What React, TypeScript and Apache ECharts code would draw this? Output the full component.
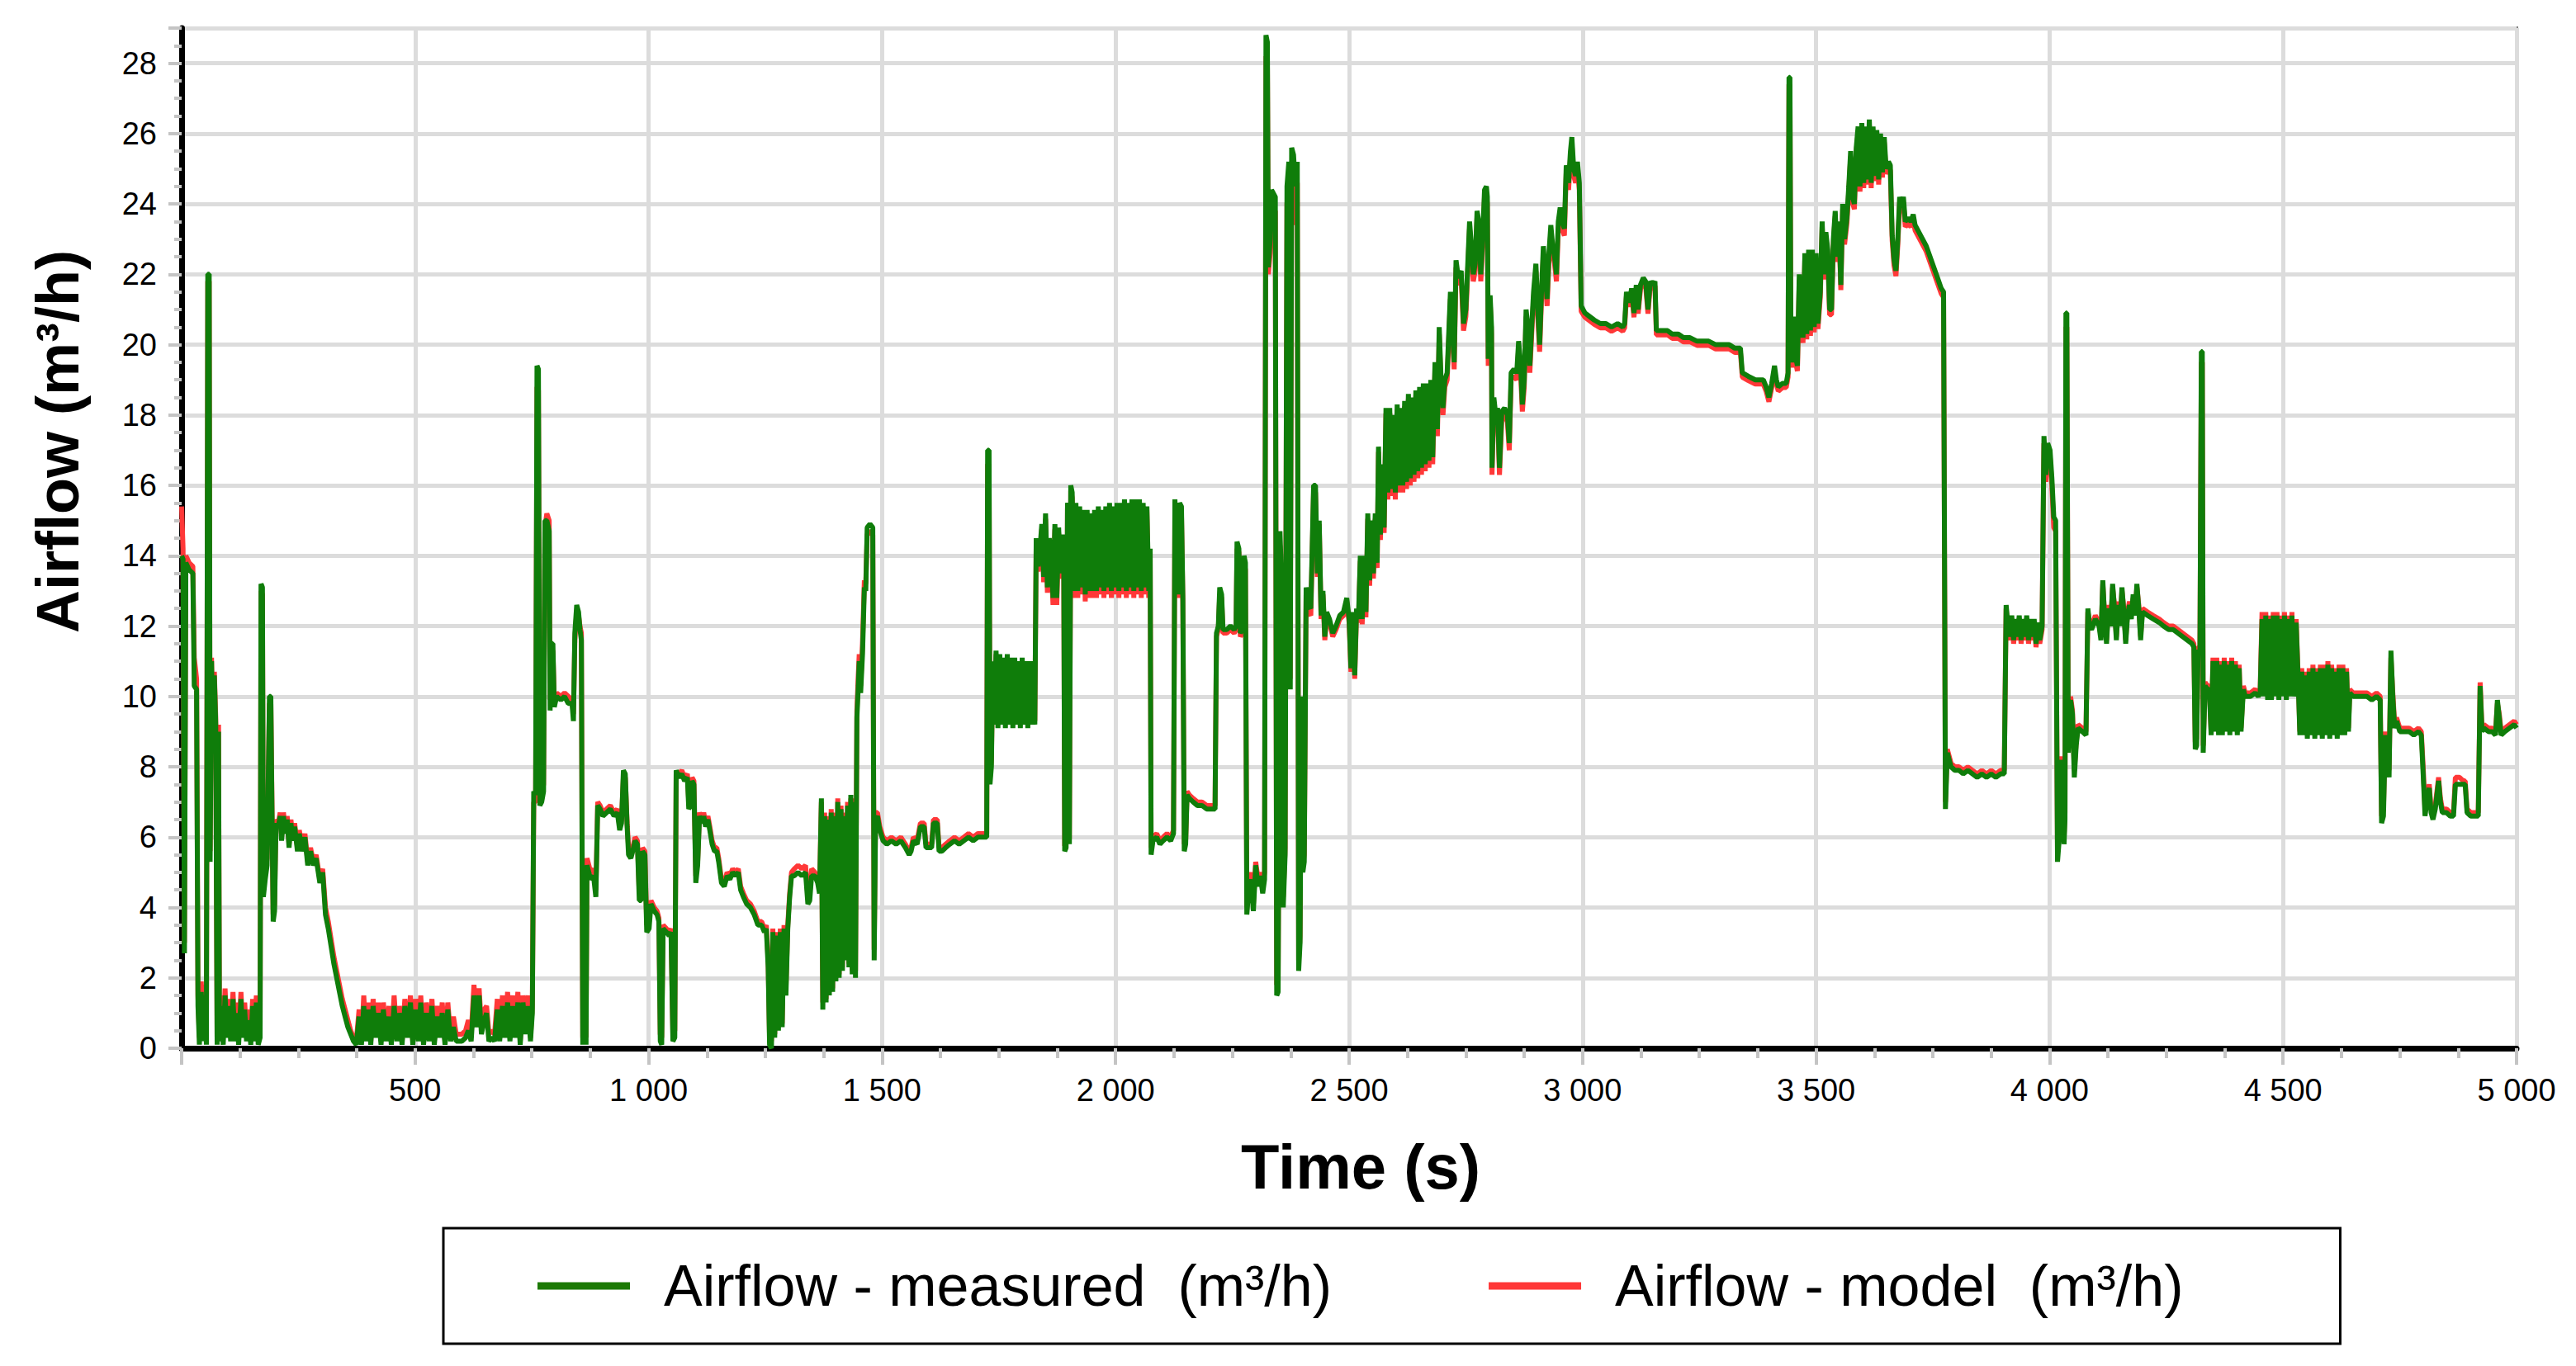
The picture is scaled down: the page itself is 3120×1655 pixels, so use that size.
import React, { useEffect, useRef } from "react";
import * as echarts from "echarts";

const X_MIN = 0;
const X_MAX = 5000;
const X_INTERVAL = 500;
const Y_MIN = 0;
const Y_MAX = 29;
const Y_INTERVAL = 2;

const MEASURED_NAME = "Airflow - measured\u00a0 (m³/h)";
const MODEL_NAME = "Airflow - model\u00a0 (m³/h)";
const X_TITLE = "Time (s)";
const Y_TITLE = "Airflow (m³/h)";

// [time (s), airflow (m3/h)]
const MEASURED: [number, number][] = [
[0,14.0],[3,13.9],[6,2.7],[9,13.8],[16,13.6],[24,13.5],[27,10.3],[32,10.2],[35,1.2],[38,0.1],[42,1.6],[46,0.2],[50,1.5],[53,0.1],[56,22.0],[59,22.0],[61,5.3],[64,11.0],[67,8.6],[70,10.6],[73,9.2],[76,0.1],[79,9.0],[81,0.2],[85,1.2],[89,0.1],[93,1.5],[97,0.3],[101,1.2],[105,0.2],[110,1.4],[114,0.2],[118,1.0],[122,0.1],[127,1.4],[131,0.3],[135,1.1],[139,0.2],[144,0.8],[148,0.1],[152,1.2],[156,0.2],[160,1.3],[164,0.1],[168,0.3],[170,13.2],[173,13.1],[175,4.3],[179,4.8],[183,5.2],[188,10.0],[191,10.0],[193,7.3],[196,3.6],[199,3.9],[202,6.4],[207,6.3],[211,6.6],[214,5.9],[218,6.6],[222,6.1],[226,6.5],[230,5.7],[234,6.4],[238,5.9],[242,6.3],[248,5.6],[252,6.1],[258,5.6],[264,6.0],[270,5.2],[276,5.6],[282,5.2],[288,5.4],[296,4.7],[302,5.0],[308,3.8],[314,3.4],[320,2.9],[326,2.4],[332,2.0],[338,1.6],[344,1.2],[350,0.9],[356,0.6],[362,0.4],[368,0.2],[374,0.1],
[380,0.9],[385,0.1],[390,1.2],[395,0.2],[400,1.1],[405,0.1],[410,1.2],[416,0.3],[421,1.0],[427,0.1],[432,1.1],[438,0.2],[444,0.9],[449,0.1],[455,1.2],[461,0.2],[466,1.0],[472,0.1],[478,1.2],[484,0.3],[490,1.3],[495,0.1],[501,1.1],[507,0.2],[512,1.3],[518,0.1],[524,1.0],[530,0.2],[536,1.2],[541,0.1],[547,0.9],[553,0.3],[558,1.0],[564,0.1],[570,1.1],[576,0.2],[582,0.6],[588,0.2],[600,0.2],[608,0.3],[614,0.5],[620,0.2],[626,1.5],[632,0.6],[637,1.5],[642,0.4],[648,0.8],[653,1.0],[658,0.2],[664,0.3],[670,0.2],[676,1.1],[681,0.2],[687,1.2],[692,0.3],[698,1.3],[703,0.2],[709,1.2],[714,0.3],[720,1.3],[725,0.1],[731,1.3],[736,0.4],[742,1.2],[747,0.2],[751,1.0],
[754,7.3],[758,7.2],[761,19.4],[764,19.3],[767,6.9],[771,7.0],[775,7.3],[778,15.0],[782,15.0],[787,14.7],[789,9.6],[792,11.5],[795,11.5],[798,9.7],[803,10.0],[812,9.9],[820,10.0],[828,9.8],[836,9.8],[839,9.3],[842,11.8],[846,12.6],[850,12.4],[853,11.9],[856,11.6],[859,0.1],[863,1.4],[866,0.1],[868,5.2],
[872,5.0],[876,4.8],[882,4.9],[887,4.3],[891,6.9],[896,6.8],[902,6.6],[910,6.7],[918,6.8],[926,6.6],[933,6.7],[938,6.2],[942,6.4],[946,7.9],[950,7.8],[954,6.3],[957,5.5],[962,5.4],[966,5.6],[971,5.9],[976,5.8],[980,4.2],[984,4.2],[987,5.6],[992,5.5],[996,3.3],[1001,3.4],[1005,4.1],[1012,3.9],[1018,3.8],[1022,3.6],[1025,0.2],[1028,0.1],[1031,3.4],[1038,3.3],[1044,3.2],[1048,3.3],[1052,0.2],[1056,0.3],[1059,7.9],[1065,7.7],[1071,7.8],[1077,7.6],[1083,7.7],[1086,6.8],[1090,6.9],[1093,7.6],[1097,7.5],[1101,4.7],[1105,5.2],[1109,6.6],[1114,6.4],[1118,6.6],[1122,6.3],[1127,6.5],[1131,6.2],[1136,5.8],[1141,5.6],[1146,5.6],[1150,5.3],[1156,4.7],[1162,4.6],[1168,4.9],[1174,4.8],[1180,5.0],[1186,4.9],[1192,5.0],[1197,4.5],[1203,4.3],[1210,4.1],[1218,4.0],[1226,3.8],[1234,3.5],[1242,3.5],[1248,3.3],[1252,3.4],[1256,2.3],[1259,0.1],
[1263,0.0],[1266,3.3],[1270,0.3],[1274,3.2],[1278,0.5],[1282,3.3],[1286,0.6],[1290,3.4],[1294,1.5],[1298,3.4],[1302,4.3],[1306,4.9],[1312,4.9],[1320,5.0],[1328,4.9],[1336,5.0],[1341,4.1],[1345,4.2],[1349,4.9],[1356,4.9],[1362,4.7],[1366,4.4],[1370,7.1],[1373,1.1],[1377,6.6],[1380,1.3],[1384,6.5],[1387,1.5],[1391,6.7],[1394,1.6],[1398,6.6],[1401,1.9],[1405,7.0],[1408,2.0],[1412,6.8],[1415,2.2],[1419,6.6],[1422,2.5],[1426,6.9],[1429,2.3],[1433,7.2],[1436,2.1],[1440,7.0],[1443,2.0],[1446,9.4],[1449,10.3],[1451,11.0],[1454,10.1],[1458,11.2],[1462,13.1],[1465,13.0],[1468,14.8],[1474,14.9],[1480,14.8],[1483,2.5],[1486,6.5],
[1490,6.6],[1495,6.2],[1502,5.9],[1510,5.8],[1520,5.9],[1530,5.8],[1540,5.9],[1550,5.7],[1558,5.5],[1562,5.6],[1567,5.9],[1575,5.8],[1582,6.3],[1590,6.3],[1594,5.7],[1600,5.7],[1606,5.7],[1610,6.4],[1618,6.4],[1622,5.6],[1628,5.6],[1636,5.7],[1645,5.8],[1655,5.9],[1665,5.8],[1675,5.9],[1685,6.0],[1695,5.9],[1705,6.0],[1715,6.0],[1724,6.0],
[1726,17.0],[1729,17.0],[1731,7.5],[1734,8.0],[1737,11.0],[1740,9.2],[1744,11.3],[1748,9.1],[1752,11.2],[1756,9.2],[1760,11.1],[1764,9.1],[1768,11.2],[1772,9.2],[1776,11.1],[1780,9.1],[1784,11.1],[1788,9.2],[1792,11.0],[1796,9.1],[1800,11.1],[1804,9.2],[1808,11.0],[1812,9.1],[1816,11.0],[1820,9.2],[1824,11.0],[1827,9.2],
[1830,14.5],[1834,13.7],[1838,14.2],[1842,14.9],[1846,13.4],[1850,15.2],[1854,13.1],[1858,14.5],[1862,14.0],[1866,12.8],[1870,14.9],[1874,12.8],[1878,14.8],[1882,13.5],[1886,14.6],[1889,14.0],[1891,5.6],[1894,5.7],[1897,15.5],[1899,15.4],[1901,5.8],[1904,16.0],[1907,15.8],
[1911,13.0],[1915,15.5],[1919,13.0],[1923,15.4],[1927,13.1],[1931,15.3],[1935,12.9],[1939,15.3],[1943,13.0],[1947,15.2],[1951,13.0],[1955,15.3],[1959,13.0],[1963,15.4],[1967,13.1],[1971,15.3],[1975,13.0],[1979,15.4],[1983,13.1],[1987,15.5],[1991,13.0],[1995,15.4],[1999,13.1],[2003,15.5],[2007,13.0],[2011,15.5],[2015,13.1],[2019,15.6],[2023,13.0],[2027,15.5],[2031,13.1],[2035,15.6],[2039,13.0],[2043,15.6],[2047,13.1],[2051,15.6],[2055,13.0],[2059,15.5],[2063,13.1],[2067,15.4],[2071,13.0],[2074,14.2],
[2076,5.5],[2080,5.9],[2088,6.0],[2095,5.8],[2102,5.9],[2110,6.0],[2118,5.9],[2124,6.1],[2127,15.6],[2131,14.0],[2134,12.9],[2137,15.5],[2141,15.4],[2144,12.8],[2147,5.6],[2150,5.8],[2153,7.2],[2158,7.1],[2166,7.0],[2175,6.9],[2185,6.9],[2195,6.8],[2205,6.8],[2213,6.8],[2216,11.8],[2220,12.0],[2223,13.1],[2227,12.9],[2230,11.9],[2238,11.9],[2246,12.0],[2254,11.9],[2258,12.0],[2260,14.4],[2264,14.2],[2267,11.8],[2271,11.9],[2275,14.0],[2278,13.8],[2281,3.8],[2285,4.5],[2290,4.8],[2295,3.9],[2300,5.2],[2305,4.6],[2310,4.9],[2315,4.4],[2319,4.8],
[2322,28.8],[2325,28.6],[2327,22.2],[2331,23.0],[2334,24.4],[2338,24.3],[2342,24.2],[2345,1.5],[2348,1.6],[2352,14.7],[2356,13.0],[2359,4.0],[2363,5.5],[2367,24.5],[2371,25.2],[2374,10.2],[2377,25.6],[2381,25.4],[2385,24.5],[2389,25.2],[2392,2.2],[2395,3.0],[2398,10.0],[2401,5.0],[2404,5.3],[2408,13.1],[2413,12.6],[2418,12.5],[2424,16.0],[2428,16.0],[2432,13.5],[2436,15.0],[2440,12.3],[2444,13.0],[2448,11.7],[2452,12.4],[2458,12.2],[2465,11.8],[2472,12.0],[2480,12.3],[2488,12.4],[2495,12.8],[2500,12.2],[2504,10.8],[2508,12.4],[2512,10.6],[2516,12.5],[2520,12.2],
[2524,14.0],[2528,12.2],[2532,14.0],[2536,12.4],[2540,15.2],[2544,13.3],[2548,15.0],[2552,13.5],[2556,15.2],[2560,13.8],[2563,17.1],[2567,14.6],[2571,16.6],[2575,14.8],[2579,18.2],[2583,15.8],[2587,18.2],[2591,15.9],[2595,18.0],[2599,15.8],[2603,18.3],[2607,16.0],[2611,18.2],[2615,16.0],[2619,18.4],[2623,16.1],[2627,18.6],[2631,16.2],[2635,18.5],[2639,16.3],[2643,18.7],[2647,16.4],[2651,18.8],[2655,16.5],[2659,18.9],[2663,16.6],[2667,18.9],[2671,16.7],[2675,19.0],[2679,16.8],[2684,19.5],[2689,17.6],[2693,20.5],[2697,19.0],[2701,18.2],[2705,19.0],[2710,19.2],[2717,21.5],[2721,20.5],[2725,19.5],[2729,22.4],[2734,21.9],[2740,22.1],[2745,20.6],[2750,21.0],[2758,23.5],[2762,22.8],[2766,22.0],[2770,22.3],[2774,23.8],[2778,23.5],[2782,22.0],[2786,23.0],[2790,24.4],[2794,24.5],[2796,24.2],[2798,19.6],[2802,21.4],[2805,20.5],[2806,16.5],[2810,18.5],[2814,18.0],[2818,18.2],[2822,16.5],[2827,18.1],[2833,18.2],[2839,18.0],[2843,17.2],[2847,19.2],[2853,19.3],[2859,19.2],[2863,20.1],[2867,19.5],[2871,18.3],[2875,19.0],[2879,21.0],[2883,20.5],[2887,19.4],[2891,20.5],[2895,21.5],[2900,22.3],[2904,21.0],[2908,20.0],[2912,21.5],[2916,22.8],[2920,22.0],[2924,21.3],[2928,22.6],[2932,23.4],[2936,22.8],[2940,22.5],[2944,22.0],[2948,23.5],[2952,23.9],[2956,23.5],[2961,23.3],[2965,25.1],[2970,24.6],[2974,25.5],[2977,25.9],[2981,25.0],[2985,24.8],[2989,25.2],[2993,24.6],[2997,21.1],
[3005,20.9],[3015,20.8],[3025,20.7],[3038,20.6],[3050,20.6],[3062,20.5],[3075,20.6],[3086,20.5],[3090,20.6],[3094,21.5],[3100,21.2],[3105,21.6],[3110,20.9],[3115,21.7],[3119,21.0],[3124,21.7],[3130,21.9],[3135,21.8],[3140,21.0],[3145,21.8],[3150,21.7],[3155,21.8],[3158,20.4],[3170,20.4],[3182,20.4],[3192,20.3],[3205,20.3],[3216,20.2],[3230,20.2],[3245,20.1],[3257,20.1],[3270,20.1],[3285,20.0],[3300,20.0],[3314,20.0],[3326,19.9],[3338,19.9],[3342,19.2],[3355,19.1],[3370,19.0],[3387,19.0],[3393,18.8],[3399,18.5],[3405,18.9],[3411,19.4],[3415,19.0],[3419,18.8],[3428,18.9],[3436,18.9],[3440,19.2],[3442,27.6],[3444,27.6],[3446,20.1],
[3450,19.5],[3453,20.8],[3457,19.6],[3460,19.4],[3464,22.0],[3468,21.0],[3472,20.2],[3476,22.6],[3480,20.3],[3484,22.7],[3488,20.4],[3492,22.7],[3496,20.5],[3500,22.6],[3504,20.6],[3509,21.5],[3513,23.5],[3517,22.0],[3521,23.2],[3525,22.7],[3529,21.0],[3533,21.0],[3537,23.0],[3541,23.8],[3545,22.5],[3549,23.5],[3553,21.7],[3557,24.0],[3561,23.0],[3566,23.6],[3570,24.5],[3574,25.5],[3578,24.2],[3582,24.0],[3586,25.6],[3590,26.2],[3594,24.5],[3598,26.3],[3602,24.6],[3606,26.2],[3610,24.7],[3614,26.4],[3618,24.6],[3622,26.2],[3626,24.8],[3630,26.1],[3634,24.7],[3638,26.0],[3642,24.9],[3646,25.9],[3650,25.0],[3655,25.2],[3659,25.1],[3663,23.1],[3667,22.4],[3671,22.1],[3675,23.0],[3679,24.2],[3683,23.9],[3687,24.2],[3691,23.5],[3697,23.6],[3703,23.5],[3708,23.7],[3712,23.4],[3716,23.3],[3720,23.2],[3728,23.0],[3736,22.8],[3744,22.5],[3752,22.2],[3760,21.9],[3768,21.6],[3773,21.5],
[3777,6.8],[3781,8.4],[3785,8.2],[3789,8.0],[3797,7.9],[3806,7.9],[3815,7.8],[3825,7.9],[3835,7.8],[3845,7.7],[3855,7.8],[3865,7.7],[3875,7.8],[3885,7.7],[3895,7.8],[3903,7.8],[3907,12.6],[3911,12.0],[3915,11.7],[3919,12.3],[3923,11.6],[3927,12.2],[3931,11.7],[3935,12.3],[3939,11.6],[3943,12.2],[3947,11.7],[3951,12.3],[3955,11.6],[3959,12.2],[3963,11.7],[3967,12.2],[3971,11.5],[3975,12.1],[3979,11.6],[3984,12.0],
[3988,17.4],[3992,16.3],[3996,17.2],[4001,17.0],[4005,16.2],[4009,15.1],[4013,15.0],[4017,5.3],[4021,6.0],[4025,8.2],[4028,7.5],[4031,5.8],[4033,6.5],[4035,20.9],[4037,20.9],[4040,8.4],[4045,9.9],[4049,9.5],[4053,7.7],[4057,8.6],[4061,9.1],[4070,9.0],[4078,8.9],[4082,12.5],[4086,12.0],[4090,11.9],[4098,12.2],[4106,12.0],[4110,11.6],[4114,13.3],[4118,12.2],[4122,11.5],[4126,12.5],[4131,12.0],[4135,13.2],[4139,12.5],[4143,11.6],[4147,12.6],[4151,12.0],[4155,13.1],[4159,12.4],[4163,11.5],[4167,12.3],[4171,12.6],[4175,12.2],[4179,12.9],[4183,12.3],[4187,13.2],[4191,12.5],[4195,11.6],[4199,12.4],[4210,12.3],[4222,12.2],[4235,12.1],[4244,12.0],[4255,11.9],[4265,11.9],[4275,11.8],[4285,11.7],[4295,11.6],[4305,11.5],[4309,11.4],[4312,8.5],[4315,8.6],[4318,11.3],[4322,11.3],[4325,19.8],[4327,19.8],[4329,8.4],[4333,10.3],
[4338,10.2],[4342,10.2],[4346,8.9],[4350,11.0],[4354,9.0],[4358,11.0],[4362,8.9],[4366,10.9],[4370,8.9],[4374,11.0],[4378,9.0],[4382,10.9],[4386,8.9],[4390,11.0],[4394,9.0],[4398,10.9],[4402,8.9],[4406,10.8],[4410,9.0],[4415,10.2],[4419,10.0],[4430,10.0],[4440,10.1],[4447,10.0],[4451,10.1],[4455,12.2],[4459,10.0],[4463,12.3],[4467,9.9],[4471,12.2],[4475,9.9],[4479,12.3],[4483,10.0],[4487,12.3],[4491,9.9],[4495,12.2],[4499,10.0],[4503,12.3],[4507,9.9],[4511,12.2],[4515,10.0],[4519,12.3],[4523,10.0],[4528,12.1],[4532,10.6],[4536,8.9],[4540,10.7],[4544,8.9],[4548,10.6],[4552,8.8],[4556,10.7],[4560,8.9],[4564,10.8],[4568,8.8],[4572,10.7],[4576,8.9],[4580,10.8],[4584,8.8],[4588,10.8],[4592,8.9],[4596,10.9],[4600,8.8],[4604,10.8],[4608,8.9],[4612,10.7],[4616,8.8],[4620,10.8],[4624,8.9],[4628,10.8],[4632,8.9],[4636,10.7],[4640,9.0],[4643,10.1],[4650,10.0],[4660,10.0],[4670,10.0],[4680,10.0],[4690,9.9],[4700,10.0],[4708,9.9],[4711,6.4],[4715,6.6],[4719,8.9],[4723,8.5],[4727,7.7],[4731,11.3],[4735,10.0],[4739,9.1],[4743,9.3],[4750,9.0],[4760,9.0],[4770,9.0],[4780,8.9],[4790,9.0],[4796,8.9],[4800,7.8],[4804,6.6],[4808,7.0],[4813,7.4],[4817,6.7],[4821,6.5],[4826,6.8],[4833,7.6],[4837,7.0],[4841,6.7],[4850,6.7],[4858,6.6],[4865,6.6],[4869,7.5],[4878,7.5],[4886,7.5],[4890,7.5],[4894,6.7],[4902,6.6],[4910,6.6],[4918,6.6],[4922,10.3],[4926,9.0],[4930,9.1],[4940,9.0],[4948,9.0],[4955,8.9],[4959,9.9],[4963,9.4],[4967,8.9],[4975,9.0],[4985,9.1],[4995,9.2],[5000,9.1]
];

const MODEL: [number, number][] = [
[0,15.4],[3,14.2],[6,3.0],[9,14.0],[16,13.8],[24,13.7],[27,11.1],[32,10.5],[35,1.5],[38,0.3],[42,1.9],[46,0.4],[50,1.8],[53,0.3],[56,21.8],[59,21.8],[61,5.6],[64,11.1],[67,8.8],[70,10.7],[73,9.4],[76,0.3],[79,9.2],[81,0.4],[85,1.5],[89,0.3],[93,1.7],[97,0.5],[101,1.4],[105,0.4],[110,1.6],[114,0.4],[118,1.3],[122,0.3],[127,1.6],[131,0.5],[135,1.3],[139,0.4],[144,1.1],[148,0.3],[152,1.4],[156,0.4],[160,1.5],[164,0.3],[168,0.5],[170,13.0],[173,12.9],[175,4.5],[179,5.0],[183,5.4],[188,9.8],[191,9.8],[193,7.5],[196,3.8],[199,4.1],[202,6.5],[207,6.4],[211,6.7],[214,6.0],[218,6.7],[222,6.2],[226,6.6],[230,5.8],[234,6.5],[238,6.0],[242,6.4],[248,5.7],[252,6.2],[258,5.7],[264,6.1],[270,5.3],[276,5.7],[282,5.3],[288,5.5],[296,4.8],[302,5.1],[308,4.0],[314,3.6],[320,3.1],[326,2.6],[332,2.2],[338,1.8],[344,1.4],[350,1.1],[356,0.8],[362,0.5],[368,0.3],[374,0.2],
[380,1.1],[385,0.2],[390,1.5],[395,0.3],[400,1.3],[405,0.2],[410,1.4],[416,0.4],[421,1.3],[427,0.2],[432,1.3],[438,0.3],[444,1.2],[449,0.2],[455,1.5],[461,0.3],[466,1.2],[472,0.2],[478,1.4],[484,0.4],[490,1.5],[495,0.2],[501,1.4],[507,0.3],[512,1.5],[518,0.2],[524,1.3],[530,0.3],[536,1.4],[541,0.2],[547,1.2],[553,0.4],[558,1.3],[564,0.2],[570,1.3],[576,0.3],[582,0.9],[588,0.4],[600,0.4],[608,0.5],[614,0.8],[620,0.4],[626,1.8],[632,0.8],[637,1.7],[642,0.6],[648,1.1],[653,1.2],[658,0.4],[664,0.5],[670,0.4],[676,1.4],[681,0.3],[687,1.5],[692,0.4],[698,1.6],[703,0.3],[709,1.5],[714,0.4],[720,1.6],[725,0.2],[731,1.5],[736,0.5],[742,1.5],[747,0.3],[751,1.2],
[754,7.0],[758,7.0],[761,18.8],[764,18.7],[767,7.1],[771,7.2],[775,7.5],[778,14.8],[782,15.2],[787,15.0],[789,9.9],[792,11.3],[795,11.3],[798,9.9],[803,10.1],[812,10.0],[820,10.1],[828,10.0],[836,9.9],[839,9.5],[842,11.6],[846,12.4],[850,12.3],[853,12.0],[856,11.8],[859,0.3],[863,1.6],[866,0.3],[868,5.4],
[872,5.2],[876,5.0],[882,5.1],[887,4.5],[891,7.0],[896,6.9],[902,6.7],[910,6.8],[918,6.9],[926,6.7],[933,6.8],[938,6.3],[942,6.5],[946,7.7],[950,7.7],[954,6.4],[957,5.7],[962,5.6],[966,5.7],[971,6.0],[976,5.9],[980,4.4],[984,4.4],[987,5.7],[992,5.6],[996,3.5],[1001,3.6],[1005,4.2],[1012,4.0],[1018,3.9],[1022,3.7],[1025,0.4],[1028,0.3],[1031,3.5],[1038,3.4],[1044,3.3],[1048,3.4],[1052,0.4],[1056,0.5],[1059,7.8],[1065,7.8],[1071,7.9],[1077,7.7],[1083,7.8],[1086,7.0],[1090,7.0],[1093,7.7],[1097,7.6],[1101,4.9],[1105,5.3],[1109,6.7],[1114,6.5],[1118,6.7],[1122,6.4],[1127,6.6],[1131,6.3],[1136,5.9],[1141,5.7],[1146,5.7],[1150,5.4],[1156,4.8],[1162,4.7],[1168,5.0],[1174,4.9],[1180,5.1],[1186,5.0],[1192,5.1],[1197,4.6],[1203,4.4],[1210,4.2],[1218,4.1],[1226,3.9],[1234,3.6],[1242,3.6],[1248,3.4],[1252,3.5],[1256,2.5],[1259,0.3],
[1263,0.2],[1266,3.4],[1270,0.4],[1274,3.3],[1278,0.6],[1282,3.4],[1286,0.7],[1290,3.5],[1294,1.7],[1298,3.5],[1302,4.4],[1306,5.0],[1312,5.1],[1320,5.2],[1328,5.1],[1336,5.2],[1341,4.3],[1345,4.4],[1349,5.1],[1356,5.0],[1362,4.8],[1366,4.5],[1370,7.0],[1373,1.3],[1377,6.7],[1380,1.4],[1384,6.6],[1387,1.6],[1391,6.8],[1394,1.7],[1398,6.7],[1401,2.0],[1405,7.1],[1408,2.1],[1412,6.9],[1415,2.3],[1419,6.7],[1422,2.6],[1426,7.0],[1429,2.4],[1433,7.1],[1436,2.2],[1440,7.1],[1443,2.2],[1446,9.6],[1449,10.6],[1451,11.2],[1454,10.3],[1458,11.5],[1462,13.3],[1465,13.2],[1468,14.6],[1474,14.7],[1480,14.6],[1483,2.8],[1486,6.7],
[1490,6.7],[1495,6.3],[1502,6.0],[1510,5.9],[1520,6.0],[1530,5.9],[1540,6.0],[1550,5.8],[1558,5.6],[1562,5.7],[1567,6.0],[1575,5.9],[1582,6.4],[1590,6.4],[1594,5.8],[1600,5.8],[1606,5.8],[1610,6.5],[1618,6.5],[1622,5.7],[1628,5.7],[1636,5.8],[1645,5.9],[1655,6.0],[1665,5.9],[1675,6.0],[1685,6.1],[1695,6.0],[1705,6.1],[1715,6.1],[1724,6.1],
[1726,16.6],[1729,16.6],[1731,7.7],[1734,8.2],[1737,10.9],[1740,9.3],[1744,11.2],[1748,9.2],[1752,11.1],[1756,9.3],[1760,11.0],[1764,9.2],[1768,11.1],[1772,9.3],[1776,11.0],[1780,9.2],[1784,11.0],[1788,9.3],[1792,10.9],[1796,9.2],[1800,11.0],[1804,9.3],[1808,10.9],[1812,9.2],[1816,10.9],[1820,9.3],[1824,10.9],[1827,9.3],
[1830,14.35],[1834,13.55],[1838,14.05],[1842,14.75],[1846,13.25],[1850,15.05],[1854,12.95],[1858,14.35],[1862,13.85],[1866,12.6],[1870,14.75],[1874,12.6],[1878,14.65],[1882,13.35],[1886,14.45],[1889,13.85],[1891,5.75],[1894,5.85],[1897,15.35],[1899,15.25],[1901,5.95],[1904,15.85],[1907,15.65],
[1911,12.8],[1915,15.4],[1919,12.8],[1923,15.3],[1927,12.9],[1931,15.2],[1935,12.7],[1939,15.2],[1943,12.8],[1947,15.1],[1951,12.8],[1955,15.2],[1959,12.8],[1963,15.3],[1967,12.9],[1971,15.2],[1975,12.8],[1979,15.3],[1983,12.9],[1987,15.4],[1991,12.8],[1995,15.3],[1999,12.9],[2003,15.4],[2007,12.8],[2011,15.4],[2015,12.9],[2019,15.5],[2023,12.8],[2027,15.4],[2031,12.9],[2035,15.5],[2039,12.8],[2043,15.5],[2047,12.9],[2051,15.5],[2055,12.8],[2059,15.4],[2063,12.9],[2067,15.3],[2071,12.8],[2074,14.1],
[2076,5.7],[2080,6.0],[2088,6.1],[2095,5.9],[2102,6.0],[2110,6.1],[2118,6.0],[2124,6.2],[2127,15.4],[2131,13.9],[2134,12.8],[2137,15.3],[2141,15.2],[2144,12.7],[2147,5.8],[2150,5.9],[2153,7.3],[2158,7.2],[2166,7.1],[2175,7.0],[2185,7.0],[2195,6.9],[2205,6.9],[2213,6.9],[2216,11.7],[2220,11.9],[2223,12.9],[2227,12.8],[2230,11.8],[2238,11.8],[2246,11.9],[2254,11.8],[2258,11.9],[2260,14.2],[2264,14.1],[2267,11.7],[2271,11.8],[2275,13.8],[2278,13.6],[2281,4.0],[2285,4.7],[2290,5.0],[2295,4.1],[2300,5.3],[2305,4.8],[2310,5.0],[2315,4.6],[2319,5.0],
[2322,28.2],[2325,27.9],[2327,22.0],[2331,22.6],[2334,23.6],[2338,23.8],[2342,23.8],[2345,1.8],[2348,1.9],[2352,14.3],[2356,12.8],[2359,4.3],[2363,5.7],[2367,24.0],[2371,24.6],[2374,10.5],[2377,25.0],[2381,25.0],[2385,23.4],[2389,24.6],[2392,2.5],[2395,3.2],[2398,9.8],[2401,5.2],[2404,5.5],[2408,12.9],[2413,12.4],[2418,12.3],[2424,15.8],[2428,15.8],[2432,13.4],[2436,14.9],[2440,12.2],[2444,12.9],[2448,11.6],[2452,12.3],[2458,12.1],[2465,11.7],[2472,11.9],[2480,12.2],[2488,12.3],[2495,12.7],[2500,12.1],[2504,10.7],[2508,12.3],[2512,10.5],[2516,12.4],[2520,12.1],
[2524,13.85],[2528,12.05],[2532,13.85],[2536,12.25],[2540,15.05],[2544,13.15],[2548,14.85],[2552,13.35],[2556,15.05],[2560,13.65],[2563,16.95],[2567,14.45],[2571,16.45],[2575,14.65],[2579,18.05],[2583,15.6],[2587,18.05],[2591,15.7],[2595,17.85],[2599,15.6],[2603,18.15],[2607,15.8],[2611,18.05],[2615,15.8],[2619,18.25],[2623,15.9],[2627,18.45],[2631,16.0],[2635,18.35],[2639,16.1],[2643,18.55],[2647,16.2],[2651,18.65],[2655,16.3],[2659,18.75],[2663,16.4],[2667,18.75],[2671,16.5],[2675,18.85],[2679,16.6],[2684,19.35],[2689,17.4],[2693,20.3],[2697,18.8],[2701,18.0],[2705,18.8],[2710,19.0],[2717,21.3],[2721,20.3],[2725,19.3],[2729,22.2],[2734,21.7],[2740,21.9],[2745,20.4],[2750,20.8],[2758,23.3],[2762,22.6],[2766,21.8],[2770,22.1],[2774,23.6],[2778,23.3],[2782,21.8],[2786,22.8],[2790,24.2],[2794,24.3],[2796,24.0],[2798,19.4],[2802,21.2],[2805,20.3],[2806,16.3],[2810,18.3],[2814,17.8],[2818,18.0],[2822,16.3],[2827,17.9],[2833,18.0],[2839,17.8],[2843,17.0],[2847,19.0],[2853,19.1],[2859,19.0],[2863,19.9],[2867,19.3],[2871,18.1],[2875,18.8],[2879,20.8],[2883,20.3],[2887,19.2],[2891,20.3],[2895,21.3],[2900,22.1],[2904,20.8],[2908,19.8],[2912,21.3],[2916,22.6],[2920,21.8],[2924,21.1],[2928,22.4],[2932,23.2],[2936,22.6],[2940,22.3],[2944,21.8],[2948,23.3],[2952,23.7],[2956,23.3],[2961,23.1],[2965,24.9],[2970,24.4],[2974,25.3],[2977,25.7],[2981,24.8],[2985,24.6],[2989,25.0],[2993,24.4],[2997,20.95],
[3005,20.78],[3015,20.68],[3025,20.58],[3038,20.48],[3050,20.48],[3062,20.38],[3075,20.48],[3086,20.38],[3090,20.48],[3094,21.38],[3100,21.08],[3105,21.48],[3110,20.78],[3115,21.58],[3119,20.88],[3124,21.58],[3130,21.78],[3135,21.68],[3140,20.88],[3145,21.68],[3150,21.58],[3155,21.68],[3158,20.28],[3170,20.28],[3182,20.28],[3192,20.18],[3205,20.18],[3216,20.08],[3230,20.08],[3245,19.98],[3257,19.98],[3270,19.98],[3285,19.88],[3300,19.88],[3314,19.88],[3326,19.78],[3338,19.78],[3342,19.08],[3355,18.98],[3370,18.88],[3387,18.88],[3393,18.68],[3399,18.38],[3405,18.78],[3411,19.28],[3415,18.88],[3419,18.68],[3428,18.78],[3436,18.78],[3440,19.08],[3442,27.4],[3444,27.4],[3446,19.98],
[3450,19.35],[3453,20.65],[3457,19.45],[3460,19.25],[3464,21.85],[3468,20.85],[3472,20.05],[3476,22.45],[3480,20.15],[3484,22.55],[3488,20.25],[3492,22.55],[3496,20.35],[3500,22.45],[3504,20.45],[3509,21.35],[3513,23.35],[3517,21.85],[3521,23.05],[3525,22.55],[3529,20.85],[3533,20.85],[3537,22.85],[3541,23.65],[3545,22.35],[3549,23.35],[3553,21.55],[3557,23.85],[3561,22.85],[3566,23.45],[3570,24.35],[3574,25.35],[3578,24.05],[3582,23.85],[3586,25.45],[3590,26.05],[3594,24.35],[3598,26.15],[3602,24.45],[3606,26.05],[3610,24.55],[3614,26.25],[3618,24.45],[3622,26.05],[3626,24.65],[3630,25.95],[3634,24.55],[3638,25.85],[3642,24.75],[3646,25.75],[3650,24.85],[3655,25.05],[3659,24.95],[3663,22.95],[3667,22.25],[3671,21.95],[3675,22.85],[3679,24.05],[3683,23.75],[3687,24.05],[3691,23.35],[3697,23.45],[3703,23.35],[3708,23.55],[3712,23.25],[3716,23.15],[3720,23.05],[3728,22.85],[3736,22.65],[3744,22.35],[3752,22.05],[3760,21.75],[3768,21.45],[3773,21.35],
[3777,7.0],[3781,8.5],[3785,8.3],[3789,8.1],[3797,8.0],[3806,8.0],[3815,7.9],[3825,8.0],[3835,7.9],[3845,7.8],[3855,7.9],[3865,7.8],[3875,7.9],[3885,7.8],[3895,7.9],[3903,7.9],[3907,12.5],[3911,11.9],[3915,11.6],[3919,12.2],[3923,11.5],[3927,12.1],[3931,11.6],[3935,12.2],[3939,11.5],[3943,12.1],[3947,11.6],[3951,12.2],[3955,11.5],[3959,12.1],[3963,11.6],[3967,12.1],[3971,11.4],[3975,12.0],[3979,11.5],[3984,11.9],
[3988,17.2],[3992,16.1],[3996,17.0],[4001,16.8],[4005,16.0],[4009,14.8],[4013,14.7],[4017,5.6],[4021,6.2],[4025,8.3],[4028,7.7],[4031,6.0],[4033,6.7],[4035,20.5],[4037,20.5],[4040,8.6],[4045,10.0],[4049,9.6],[4053,7.9],[4057,8.7],[4061,9.2],[4070,9.1],[4078,9.0],[4082,12.4],[4086,12.1],[4090,12.0],[4098,12.3],[4106,12.1],[4110,11.7],[4114,13.2],[4118,12.3],[4122,11.6],[4126,12.6],[4131,12.1],[4135,13.1],[4139,12.6],[4143,11.7],[4147,12.7],[4151,12.1],[4155,13.0],[4159,12.5],[4163,11.6],[4167,12.4],[4171,12.7],[4175,12.3],[4179,12.8],[4183,12.4],[4187,13.1],[4191,12.6],[4195,11.7],[4199,12.5],[4210,12.4],[4222,12.3],[4235,12.2],[4244,12.1],[4255,12.0],[4265,12.0],[4275,11.9],[4285,11.8],[4295,11.7],[4305,11.6],[4309,11.5],[4312,8.7],[4315,8.8],[4318,11.4],[4322,11.4],[4325,19.5],[4327,19.5],[4329,8.6],[4333,10.4],
[4338,10.3],[4342,10.3],[4346,9.0],[4350,11.1],[4354,9.1],[4358,11.1],[4362,9.0],[4366,11.0],[4370,9.0],[4374,11.1],[4378,9.1],[4382,11.0],[4386,9.0],[4390,11.1],[4394,9.1],[4398,11.0],[4402,9.0],[4406,10.9],[4410,9.1],[4415,10.3],[4419,10.1],[4430,10.1],[4440,10.2],[4447,10.1],[4451,10.2],[4455,12.4],[4459,10.1],[4463,12.4],[4467,10.0],[4471,12.3],[4475,10.0],[4479,12.4],[4483,10.1],[4487,12.4],[4491,10.0],[4495,12.3],[4499,10.1],[4503,12.4],[4507,10.0],[4511,12.3],[4515,10.1],[4519,12.4],[4523,10.1],[4528,12.2],[4532,10.7],[4536,9.0],[4540,10.8],[4544,9.0],[4548,10.7],[4552,8.9],[4556,10.8],[4560,9.0],[4564,10.9],[4568,8.9],[4572,10.8],[4576,9.0],[4580,10.9],[4584,8.9],[4588,10.9],[4592,9.0],[4596,11.0],[4600,8.9],[4604,10.9],[4608,9.0],[4612,10.8],[4616,8.9],[4620,10.9],[4624,9.0],[4628,10.9],[4632,9.0],[4636,10.8],[4640,9.1],[4643,10.2],[4650,10.1],[4660,10.1],[4670,10.1],[4680,10.1],[4690,10.0],[4700,10.1],[4708,10.0],[4711,6.6],[4715,6.8],[4719,9.0],[4723,8.6],[4727,7.9],[4731,11.1],[4735,10.1],[4739,9.2],[4743,9.4],[4750,9.1],[4760,9.1],[4770,9.1],[4780,9.0],[4790,9.1],[4796,9.0],[4800,8.0],[4804,6.8],[4808,7.1],[4813,7.5],[4817,6.8],[4821,6.7],[4826,6.9],[4833,7.7],[4837,7.1],[4841,6.8],[4850,6.8],[4858,6.7],[4865,6.7],[4869,7.7],[4878,7.7],[4886,7.6],[4890,7.6],[4894,6.8],[4902,6.7],[4910,6.7],[4918,6.7],[4922,10.4],[4926,9.1],[4930,9.2],[4940,9.1],[4948,9.1],[4955,9.0],[4959,9.8],[4963,9.5],[4967,9.0],[4975,9.1],[4985,9.2],[4995,9.3],[5000,9.2]
];

const FONT = '"Liberation Sans", Arial, Helvetica, sans-serif';
const GREEN = "#0f7d0a";
const RED = "#ff3838";

function fmtThousands(v: number): string {
  if (v >= 1000) {
    const th = Math.floor(v / 1000);
    const rest = String(v % 1000).padStart(3, "0");
    return th + " " + rest;
  }
  return String(v);
}

export default function App() {
  const ref = useRef<HTMLDivElement>(null);
  useEffect(() => {
    if (!ref.current) return;
    const chart = echarts.init(ref.current, null, { renderer: "svg" });
    const option: any = {
      animation: false,
      backgroundColor: "#ffffff",
      grid: {
        left: 220,
        right: 72,
        top: 34,
        bottom: 385,
        show: true,
        borderColor: "#808080",
        borderWidth: 4,
        backgroundColor: "transparent",
      },
      xAxis: {
        type: "value",
        min: X_MIN,
        max: X_MAX,
        interval: X_INTERVAL,
        axisLine: { show: true, onZero: false, lineStyle: { color: "#000", width: 7 } },
        axisTick: { show: true, length: 20, lineStyle: { color: "#c4c4c4", width: 4 } },
        minorTick: { show: true, splitNumber: 4, length: 12, lineStyle: { color: "#c4c4c4", width: 4 } },
        axisLabel: {
          showMinLabel: false,
          margin: 32,
          fontSize: 38,
          color: "#000",
          fontFamily: FONT,
          formatter: (v: number) => fmtThousands(v),
        },
        splitLine: { show: true, lineStyle: { color: "#dcdcdc", width: 5 } },
        minorSplitLine: { show: false },
      },
      yAxis: {
        type: "value",
        min: Y_MIN,
        max: Y_MAX,
        interval: Y_INTERVAL,
        axisLine: { show: true, onZero: false, lineStyle: { color: "#000", width: 7 } },
        axisTick: { show: true, length: 16, lineStyle: { color: "#c4c4c4", width: 4 } },
        minorTick: { show: true, splitNumber: 4, length: 9, lineStyle: { color: "#c4c4c4", width: 4 } },
        axisLabel: {
          showMaxLabel: false,
          margin: 30,
          fontSize: 38,
          color: "#000",
          fontFamily: FONT,
          formatter: (v: number) => (v > 28 ? "" : String(v)),
        },
        splitLine: { show: true, lineStyle: { color: "#dcdcdc", width: 5 } },
      },
      legend: {
        left: 537,
        top: 1488,
        orient: "horizontal",
        data: [
          { name: MEASURED_NAME, icon: "rect" },
          { name: MODEL_NAME, icon: "rect" },
        ],
        itemWidth: 112,
        itemHeight: 9,
        itemGap: 190,
        padding: [35, 190, 35, 114],
        borderColor: "#000",
        borderWidth: 3,
        backgroundColor: "#fff",
        selectedMode: false,
        textStyle: {
          fontSize: 70,
          lineHeight: 70,
          color: "#000",
          fontFamily: FONT,
          padding: [0, 0, 0, 36],
        },
      },
      graphic: [
        {
          type: "text",
          x: 70,
          y: 535,
          rotation: Math.PI / 2,
          style: {
            text: Y_TITLE,
            fontSize: 72,
            fontWeight: "bold",
            fontFamily: FONT,
            fill: "#000",
            align: "center",
            verticalAlign: "middle",
          },
        },
        {
          type: "text",
          x: 1648,
          y: 1413,
          style: {
            text: X_TITLE,
            fontSize: 76,
            fontWeight: "bold",
            fontFamily: FONT,
            fill: "#000",
            align: "center",
            verticalAlign: "middle",
          },
        },
      ],
      series: [
        {
          name: MODEL_NAME,
          type: "line",
          data: MODEL,
          symbol: "none",
          showSymbol: false,
          lineStyle: { color: RED, width: 6 },
          itemStyle: { color: RED },
          z: 2,
        },
        {
          name: MEASURED_NAME,
          type: "line",
          data: MEASURED,
          symbol: "none",
          showSymbol: false,
          lineStyle: { color: GREEN, width: 6 },
          itemStyle: { color: "#1c7a04" },
          z: 3,
        },
      ],
    };
    chart.setOption(option);
    return () => {
      chart.dispose();
    };
  }, []);
  return (
    <div
      ref={ref}
      style={{ position: "absolute", left: 0, top: 0, width: 3120, height: 1655, background: "#fff" }}
    />
  );
}
